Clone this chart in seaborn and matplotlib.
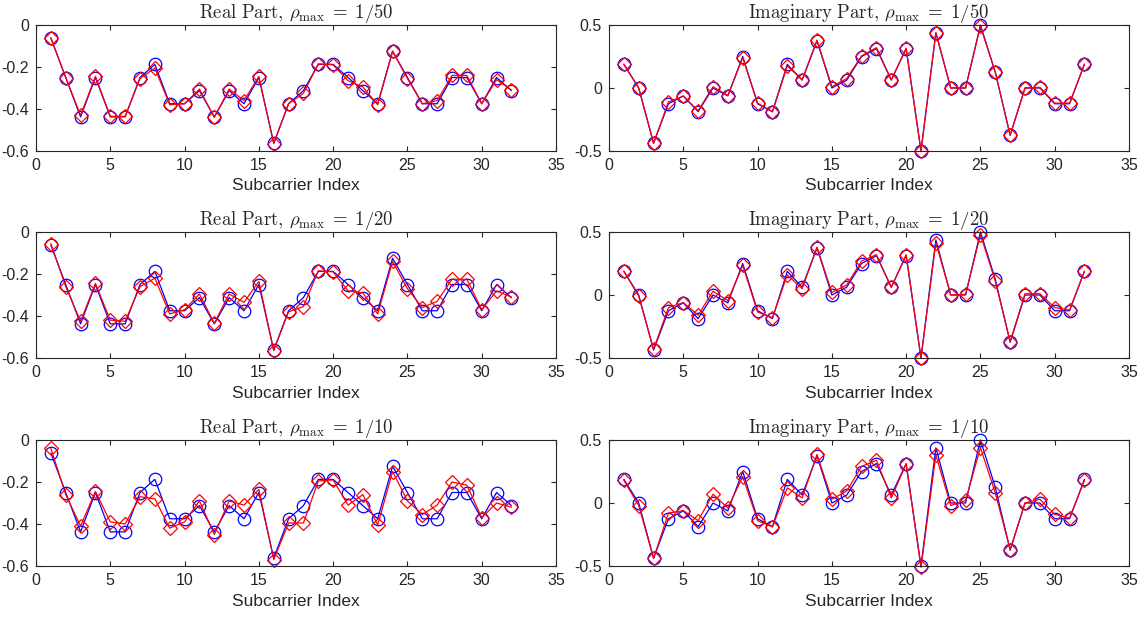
import numpy as np
import pandas as pd
import matplotlib
matplotlib.use("Agg")
import matplotlib.pyplot as plt
import seaborn as sns

# Subcarrier indices
subcarrier = list(range(1, 33))

# True channel coefficients (real and imaginary parts)
true_real = [-0.0625, -0.25, -0.4375, -0.25, -0.4375, -0.4375, -0.25, -0.1875,
             -0.375, -0.375, -0.3125, -0.4375, -0.3125, -0.375, -0.25, -0.5625,
             -0.375, -0.3125, -0.1875, -0.1875, -0.25, -0.3125, -0.375, -0.125,
             -0.25, -0.375, -0.375, -0.25, -0.25, -0.375, -0.25, -0.3125]
true_imag = [0.1875, 0.0, -0.4375, -0.125, -0.0625, -0.1875, 0.0, -0.0625,
             0.25, -0.125, -0.1875, 0.1875, 0.0625, 0.375, 0.0, 0.0625,
             0.25, 0.3125, 0.0625, 0.3125, -0.5, 0.4375, 0.0, 0.0,
             0.5, 0.125, -0.375, 0.0, 0.0, -0.125, -0.125, 0.1875]

# Estimated coefficients for each rho_max
est_real_50 = [-0.06, -0.25, -0.43, -0.245, -0.435, -0.435, -0.255, -0.205,
               -0.38, -0.375, -0.305, -0.44, -0.305, -0.36, -0.245, -0.565,
               -0.375, -0.325, -0.185, -0.19, -0.265, -0.295, -0.38, -0.125,
               -0.255, -0.375, -0.36, -0.24, -0.24, -0.375, -0.26, -0.31]
est_real_20 = [-0.055, -0.26, -0.425, -0.245, -0.42, -0.425, -0.26, -0.22,
               -0.39, -0.37, -0.295, -0.435, -0.295, -0.335, -0.235, -0.565,
               -0.38, -0.355, -0.185, -0.19, -0.28, -0.29, -0.39, -0.14,
               -0.27, -0.36, -0.33, -0.225, -0.225, -0.37, -0.28, -0.31]
est_real_10 = [-0.04, -0.26, -0.41, -0.245, -0.39, -0.40, -0.27, -0.28,
               -0.42, -0.39, -0.29, -0.45, -0.29, -0.31, -0.235, -0.57,
               -0.395, -0.395, -0.195, -0.19, -0.31, -0.26, -0.405, -0.15,
               -0.29, -0.355, -0.31, -0.2, -0.215, -0.37, -0.3, -0.32]

est_imag_50 = [0.19, 0.0, -0.44, -0.11, -0.065, -0.18, 0.01, -0.06,
               0.24, -0.12, -0.19, 0.175, 0.065, 0.38, 0.01, 0.075,
               0.255, 0.32, 0.065, 0.315, -0.5, 0.44, 0.0, 0.0,
               0.49, 0.125, -0.375, 0.0, 0.005, -0.12, -0.12, 0.19]
est_imag_20 = [0.19, -0.01, -0.43, -0.1, -0.06, -0.16, 0.03, -0.045,
               0.235, -0.135, -0.18, 0.16, 0.05, 0.38, 0.02, 0.08,
               0.27, 0.32, 0.06, 0.32, -0.5, 0.415, 0.0, 0.005,
               0.48, 0.11, -0.37, 0.01, 0.01, -0.1, -0.12, 0.19]
est_imag_10 = [0.18, -0.02, -0.44, -0.08, -0.06, -0.14, 0.07, -0.04,
               0.21, -0.14, -0.19, 0.12, 0.04, 0.385, 0.03, 0.095,
               0.29, 0.34, 0.04, 0.31, -0.51, 0.38, -0.02, 0.02,
               0.44, 0.08, -0.37, 0.0, 0.03, -0.09, -0.12, 0.18]

rho_labels = ["1/50", "1/20", "1/10"]
est_real = [est_real_50, est_real_20, est_real_10]
est_imag = [est_imag_50, est_imag_20, est_imag_10]

sns.set_style("ticks")
plt.rcParams.update({
    "font.family": ["Liberation Sans", "DejaVu Sans"],
    "mathtext.fontset": "cm",
    "xtick.direction": "in",
    "ytick.direction": "in",
    "xtick.top": True,
    "ytick.right": True,
    "xtick.major.size": 3.5,
    "ytick.major.size": 3.5,
    "axes.edgecolor": "#262626",
    "axes.linewidth": 0.8,
    "xtick.color": "#262626",
    "ytick.color": "#262626",
    "text.color": "#262626",
})

fig = plt.figure(figsize=(11.47, 6.19), dpi=100)

col_left = [36 / 1147, 609 / 1147]
ax_w = 520 / 1147
row_bottom = [1 - 151 / 619, 1 - 358 / 619, 1 - 566 / 619]
ax_h = 126 / 619


def draw_panel(ax, truth, est, ylim, yticks, yticklabels, title):
    df = pd.DataFrame({"k": subcarrier, "true": truth, "est": est})
    sns.lineplot(data=df, x="k", y="true", ax=ax, color="blue", linewidth=0.9,
                 marker="o", markersize=9, markerfacecolor="none",
                 markeredgecolor="blue", markeredgewidth=0.9, clip_on=False)
    sns.lineplot(data=df, x="k", y="est", ax=ax, color="red", linewidth=0.9,
                 marker="D", markersize=6.8, markerfacecolor="none",
                 markeredgecolor="red", markeredgewidth=0.9, clip_on=False)
    ax.set_xlim(0, 35)
    ax.set_ylim(*ylim)
    ax.set_xticks(range(0, 36, 5))
    ax.set_yticks(yticks)
    ax.set_yticklabels(yticklabels)
    ax.tick_params(labelsize=11.5, pad=5)
    ax.set_xlabel("Subcarrier Index", fontsize=12.5, labelpad=4)
    ax.set_ylabel("")
    ax.set_title(title, fontsize=13.5, pad=3)


for r in range(3):
    ax_re = fig.add_axes([col_left[0], row_bottom[r], ax_w, ax_h])
    draw_panel(ax_re, true_real, est_real[r], (-0.6, 0),
               [-0.6, -0.4, -0.2, 0], ["-0.6", "-0.4", "-0.2", "0"],
               r"$\mathrm{Real\ Part,}\,\rho_{\max}\;=\;%s$" % rho_labels[r])
    ax_im = fig.add_axes([col_left[1], row_bottom[r], ax_w, ax_h])
    draw_panel(ax_im, true_imag, est_imag[r], (-0.5, 0.5),
               [-0.5, 0, 0.5], ["-0.5", "0", "0.5"],
               r"$\mathrm{Imaginary\ Part,}\,\rho_{\max}\;=\;%s$" % rho_labels[r])

fig.savefig("out.png", dpi=100)
